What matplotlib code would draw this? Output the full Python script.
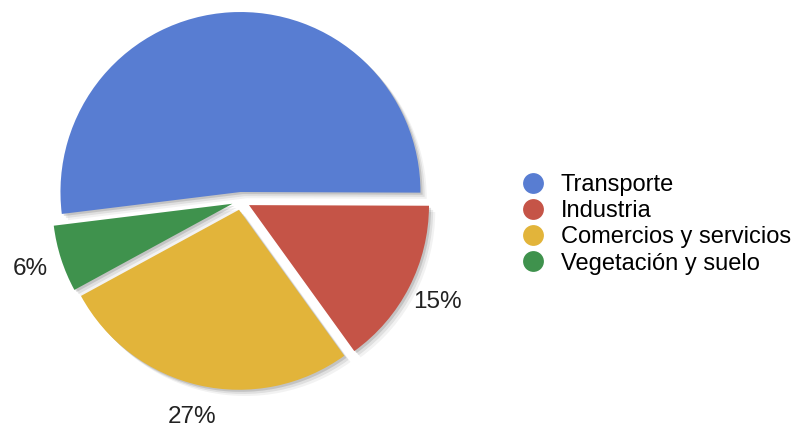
import matplotlib.pyplot as plt
import matplotlib.patheffects as pe
from matplotlib.lines import Line2D

plt.rcParams['font.family'] = ['Liberation Sans', 'DejaVu Sans']

sectores = ['Transporte', 'Industria', 'Comercios y servicios', 'Vegetación y suelo']
porcentajes = [52, 15, 27, 6]
colores = ['#587dd2', '#c55447', '#e2b43a', '#3f924d']

fig = plt.figure(figsize=(7.95, 4.37), dpi=100)
ax = fig.add_axes([0, 0, 1, 1])

# sombra suave: varias copias desplazadas y transparentes
sombra = [pe.SimplePatchShadow(offset=(1.5, -1.5), shadow_rgbFace='k', alpha=0.12),
          pe.SimplePatchShadow(offset=(3, -3), shadow_rgbFace='k', alpha=0.08),
          pe.SimplePatchShadow(offset=(4.5, -4.5), shadow_rgbFace='k', alpha=0.05),
          pe.Normal()]

wedges, textos, pcts = ax.pie(porcentajes, colors=colores, startangle=187, counterclock=False,
                              explode=[0.05] * 4, autopct='%d%%', pctdistance=1.18,
                              textprops={'fontsize': 17.5, 'color': '#222222'},
                              wedgeprops={'linewidth': 0})
for w in wedges:
    w.set_path_effects(sombra)
# la etiqueta de Transporte queda fuera del lienzo
pcts[0].set_visible(False)

R = 180.0
cx, cy = 241, 201
ax.set_xlim(-cx / R, (795 - cx) / R)
ax.set_ylim(-(437 - cy) / R, cy / R)
ax.set_aspect('auto')
ax.axis('off')

handles = [Line2D([], [], marker='o', linestyle='', markersize=15, markerfacecolor=c,
                  markeredgewidth=0) for c in colores]
fig.legend(handles, sectores, loc='upper left', bbox_to_anchor=(509 / 795, 1 - 174 / 437),
           frameon=False, fontsize=17, handletextpad=0.2, labelspacing=0.18,
           borderaxespad=0, borderpad=0)

fig.savefig('out.png', dpi=100)
